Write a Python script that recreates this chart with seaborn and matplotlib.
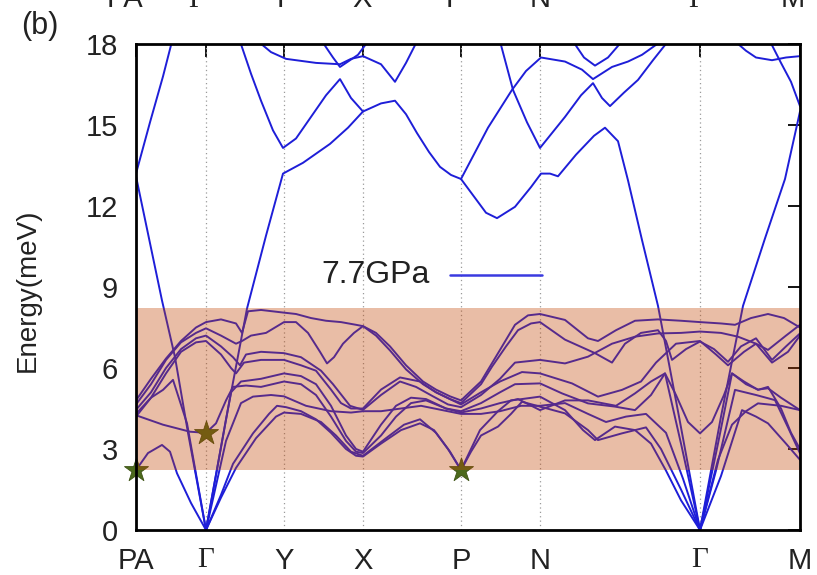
import numpy as np
import pandas as pd
import matplotlib
matplotlib.use("Agg")
import matplotlib.pyplot as plt
import seaborn as sns

# ---------------- data ----------------
kpath_pos = [0, 70, 148, 227, 325, 404, 564, 664]
kpath_labels = ["PA", "Γ", "Y", "X", "P", "N", "Γ", "M"]
energy_ticks = [0, 3, 6, 9, 12, 15, 18]
legend_label = "7.7GPa"
window_low, window_high = 2.22, 8.22
star_k = [0, 70, 325]
star_E = [2.22, 3.6, 2.22]

# high-energy branches (k, E)
band_pa_up = [(0, 13.2), (14, 15.1), (27, 16.8), (36, 18.1)]
band_pa_down = [(0, 13.1), (13, 10.8), (26, 8.5), (39, 6.4), (52, 3.6), (70, 0)]
band_long = [(70, 0), (90, 4.1), (111, 8.2), (130, 10.9), (147, 13.2), (167, 13.6), (194, 14.3),
             (212, 14.9), (227, 15.5), (245, 15.8), (259, 15.9), (270, 15.4), (281, 14.7),
             (293, 14.0), (304, 13.45), (315, 13.15), (325, 13.0), (339, 12.3), (350, 11.75),
             (361, 11.55), (379, 11.97), (395, 12.7), (405, 13.2), (414, 13.2), (422, 13.1),
             (440, 13.9), (458, 14.6), (469, 14.9), (482, 14.4), (492, 12.95), (506, 10.74),
             (522, 8.3), (543, 4.2), (564, 0)]
band_y_min = [(104, 18.1), (115, 16.9), (125, 15.9), (137, 14.8), (147, 14.15), (160, 14.5),
              (175, 15.3), (190, 16.1), (204, 16.7), (215, 16.0), (227, 15.5)]
band_upper1 = [(122, 18.1), (135, 17.7), (150, 17.45), (180, 17.3), (204, 17.25), (215, 17.45),
               (227, 17.55), (245, 17.25), (259, 16.6), (270, 17.3), (281, 18.1)]
band_upper2 = [(186, 18.1), (197, 17.5), (204, 17.15), (212, 17.35), (222, 17.6), (232, 18.1)]
band_p_up = [(325, 13.0), (352, 14.9), (376, 16.3), (390, 17.0), (405, 17.5), (429, 17.35),
             (446, 17.05), (457, 16.7), (476, 17.15), (492, 17.35), (506, 17.6), (525, 18.1)]
band_n_min = [(364, 18.1), (377, 16.3), (391, 15.1), (404, 14.15), (429, 15.3), (445, 16.1),
              (457, 16.55), (466, 16.0), (474, 15.7), (488, 16.2), (502, 16.67), (517, 17.4),
              (532, 18.1)]
band_para = [(437, 18.1), (448, 17.5), (459, 17.2), (472, 17.5), (486, 18.1)]
band_m1 = [(599, 18.1), (610, 17.75), (620, 17.5), (636, 17.4), (650, 17.5), (664, 17.55)]
band_m2 = [(634, 18.1), (645, 17.3), (655, 16.6), (664, 15.7)]
band_m_acoustic = [(564, 0), (585, 4.2), (607, 8.3), (629, 10.8), (649, 13.0), (664, 15.5)]

# low-energy branches (k, E)
band_ta1 = [(0, 2.22), (12, 2.85), (26, 3.15), (34, 2.9), (41, 2.1), (55, 1.0), (70, 0),
            (85, 1.3), (97, 2.45), (117, 3.58), (133, 4.3), (141, 4.6), (150, 4.55), (165, 4.4),
            (180, 4.1), (195, 3.6), (210, 3.0), (220, 2.75), (227, 2.72), (245, 3.2), (265, 3.7),
            (284, 3.95), (298, 3.7), (312, 3.0), (325, 2.22), (335, 3.0), (344, 3.7), (362, 4.4),
            (375, 4.8), (386, 4.85), (404, 4.94), (429, 4.44), (447, 3.7), (459, 3.33), (479, 3.83),
            (499, 3.7), (515, 3.2), (530, 2.2), (545, 1.1), (564, 0), (580, 2.2), (599, 5.19),
            (620, 5.0), (639, 4.81), (652, 3.8), (664, 2.84)]
band_ta2 = [(0, 4.2), (15, 4.9), (27, 5.19), (37, 5.56), (51, 3.95), (70, 0), (85, 1.2),
            (100, 2.3), (120, 3.4), (140, 4.2), (148, 4.35), (165, 4.3), (185, 4.0), (200, 3.5),
            (215, 2.9), (227, 2.75), (250, 3.4), (268, 3.9), (284, 4.1), (300, 3.6), (314, 2.9),
            (325, 2.22), (335, 2.9), (345, 3.5), (362, 3.83), (375, 4.3), (386, 4.75), (404, 4.57),
            (429, 4.32), (452, 3.7), (462, 3.33), (486, 3.58), (499, 3.7), (510, 3.8), (525, 3.0),
            (545, 1.5), (564, 0), (585, 2.0), (606, 4.44), (620, 4.2), (632, 3.95), (650, 3.2),
            (664, 2.6)]
band_la = [(70, 0), (95, 5.1), (105, 5.5), (125, 5.6), (148, 5.8), (165, 5.7), (180, 5.4),
           (195, 4.6), (210, 3.5), (220, 3.0), (227, 2.9), (245, 3.9), (260, 4.6), (275, 4.9),
           (290, 4.85), (310, 4.5), (325, 4.35), (345, 4.5), (364, 4.7), (382, 4.85), (404, 4.44),
           (429, 4.8), (452, 4.8), (480, 4.6), (499, 5.06), (515, 5.5), (529, 5.8), (545, 3.2),
           (564, 0), (582, 3.2), (596, 5.8), (610, 5.4), (622, 5.2), (632, 5.25), (645, 4.9),
           (664, 4.44)]
band_star = [(0, 4.25), (27, 3.9), (54, 3.64), (70, 3.6), (80, 3.95), (90, 4.8), (97, 5.3),
             (110, 5.35), (125, 5.3), (148, 5.5), (165, 5.4), (180, 5.0), (195, 4.2), (210, 3.3),
             (220, 2.9), (227, 2.85), (245, 3.5), (260, 4.2), (275, 4.7), (290, 4.8), (310, 4.5),
             (325, 4.4), (345, 4.7), (364, 5.1), (379, 5.4), (404, 5.43), (426, 5.06), (452, 4.69),
             (479, 4.57), (499, 4.44), (515, 5.0), (529, 5.8), (540, 5.0), (552, 4.0), (564, 3.58),
             (576, 4.0), (588, 5.0), (596, 5.8), (608, 5.5), (622, 5.19), (632, 5.3), (645, 4.5),
             (655, 3.6), (664, 3.0)]
band_mid = [(70, 0), (90, 3.3), (105, 4.7), (117, 4.94), (135, 5.0), (148, 4.95), (170, 4.6),
            (195, 4.4), (215, 4.35), (227, 4.4), (245, 4.4), (265, 4.5), (285, 4.6), (305, 4.45),
            (325, 4.3), (345, 4.3), (364, 4.4), (385, 4.6), (404, 4.6), (429, 4.7), (452, 4.3),
            (470, 4.0), (490, 4.2), (510, 4.3), (530, 3.6), (547, 1.9), (564, 0), (582, 2.6),
            (596, 3.9), (610, 4.4), (622, 4.69), (645, 4.6), (664, 4.44)]
band_opt_a = [(0, 4.8), (15, 5.6), (30, 6.35), (45, 7.0), (60, 7.5), (70, 7.7), (85, 7.8),
              (100, 7.65), (106, 7.3), (112, 8.1), (125, 8.15), (148, 8.05), (160, 8.0), (175, 7.85),
              (190, 7.75), (205, 7.7), (220, 7.6), (227, 7.55), (240, 7.3), (254, 6.8), (270, 6.1),
              (287, 5.5), (300, 5.2), (314, 4.95), (325, 4.8), (345, 5.5), (364, 6.67), (379, 7.6),
              (392, 7.95), (404, 8.0), (429, 7.78), (452, 7.1), (462, 7.0), (480, 7.4), (499, 7.75),
              (522, 7.8), (545, 7.75), (564, 7.7), (585, 7.65), (599, 7.6), (615, 7.85), (632, 8.0),
              (648, 7.85), (664, 7.5)]
band_opt_b = [(0, 4.65), (15, 5.4), (30, 6.3), (45, 6.95), (60, 7.3), (70, 7.47), (85, 7.2),
              (100, 6.9), (106, 7.0), (115, 7.2), (130, 7.3), (148, 7.7), (160, 7.7), (172, 7.3),
              (184, 6.6), (191, 6.17), (198, 6.4), (207, 6.9), (218, 7.3), (227, 7.55), (240, 7.2),
              (254, 6.65), (270, 5.95), (287, 5.4), (300, 5.1), (314, 4.85), (325, 4.7), (345, 5.4),
              (356, 6.05), (370, 6.8), (382, 7.4), (395, 7.65), (404, 7.7), (429, 7.05), (459, 6.55),
              (476, 6.2), (489, 6.9), (505, 7.3), (522, 7.4), (530, 7.0), (536, 6.3), (550, 6.7),
              (564, 6.98), (578, 6.7), (592, 6.23), (605, 6.8), (620, 7.1), (636, 6.3), (650, 6.8),
              (664, 7.28)]
band_opt_c = [(0, 4.45), (15, 5.1), (30, 6.0), (45, 6.7), (60, 7.1), (70, 7.2), (85, 6.8),
              (97, 6.4), (104, 6.1), (110, 6.5), (125, 6.6), (148, 6.55), (165, 6.4), (185, 5.9),
              (197, 5.4), (214, 4.6), (227, 4.45), (245, 5.0), (264, 5.5), (280, 5.3), (297, 4.95),
              (312, 4.65), (325, 4.55), (345, 5.0), (364, 5.6), (379, 6.2), (404, 6.3), (429, 6.17),
              (452, 6.42), (476, 6.9), (499, 7.16), (522, 7.28), (545, 7.3), (564, 7.35), (585, 7.3),
              (602, 7.16), (620, 6.9), (632, 6.67), (650, 7.2), (664, 7.6)]
band_opt_d = [(0, 4.3), (15, 4.9), (30, 5.8), (45, 6.6), (60, 6.95), (70, 7.0), (85, 6.5),
              (95, 6.0), (100, 5.8), (108, 6.2), (125, 6.3), (148, 6.3), (165, 6.1), (180, 5.9),
              (195, 5.2), (205, 4.7), (215, 4.5), (227, 4.5), (245, 5.2), (264, 5.65), (284, 5.5),
              (300, 5.1), (325, 4.65), (345, 5.1), (364, 5.5), (386, 5.85), (404, 5.8), (436, 5.43),
              (462, 4.94), (486, 5.19), (505, 5.5), (520, 6.2), (540, 6.9), (564, 7.0), (580, 6.5),
              (592, 6.1), (608, 6.6), (620, 6.9), (636, 6.2), (652, 6.6), (664, 7.2)]

bands = {
    "pa_up": band_pa_up, "pa_down": band_pa_down, "long": band_long, "y_min": band_y_min,
    "upper1": band_upper1, "upper2": band_upper2, "p_up": band_p_up, "n_min": band_n_min,
    "para": band_para, "m1": band_m1, "m2": band_m2, "m_ac": band_m_acoustic,
    "ta1": band_ta1, "ta2": band_ta2, "la": band_la, "star": band_star, "mid": band_mid,
    "opt_a": band_opt_a, "opt_b": band_opt_b, "opt_c": band_opt_c, "opt_d": band_opt_d,
}
rows = [(name, k, e) for name, pts in bands.items() for k, e in pts]
df = pd.DataFrame(rows, columns=["band", "k", "E"])
stars = pd.DataFrame({"k": star_k, "E": star_E})

# ---------------- plot ----------------
sns.set_theme(style="white")
plt.rcParams["font.family"] = ["Liberation Sans", "DejaVu Sans"]

W, H = 817, 575
fig = plt.figure(figsize=(W / 100, H / 100), dpi=100)
ax = fig.add_axes([136 / W, (H - 530) / H, 664 / W, 486 / H])

line_color = "#1e1ed8"
sns.lineplot(data=df, x="k", y="E", units="band", estimator=None, sort=False,
             color=line_color, linewidth=1.4, ax=ax, legend=False, zorder=3)
sns.scatterplot(data=stars, x="k", y="E", marker="*", s=330, color="#4c6a1c",
                edgecolor="#3d5214", linewidth=0.6, ax=ax, zorder=3.5, clip_on=False, legend=False)

ax.axhspan(window_low, window_high, color="#c04200", alpha=0.35, lw=0, zorder=4)

for pos in kpath_pos[1:-1]:
    ax.axvline(pos, color="#9a9a9a", lw=0.9, ls=(0, (1, 2.5)), zorder=1)

ax.set_xlim(kpath_pos[0], kpath_pos[-1])
ax.set_ylim(energy_ticks[0], energy_ticks[-1])
ax.set_xticks(kpath_pos)
ax.set_xticklabels(kpath_labels)
ax.set_yticks(energy_ticks)
ax.set_xlabel("")
ax.set_ylabel("")
for lab in ax.get_xticklabels():
    if lab.get_text() == "Γ":
        lab.set_fontfamily(["Liberation Serif", "DejaVu Serif"])
ax.tick_params(axis="both", direction="in", length=9, width=1.3, color="black",
               top=True, right=True, labelsize=21, colors="black")
ax.tick_params(axis="y", pad=13)
ax.tick_params(axis="x", pad=12)
for lab in ax.get_xticklabels() + ax.get_yticklabels():
    lab.set_color("#222222")
for sp in ax.spines.values():
    sp.set_color("black")
    sp.set_linewidth(2.0)
    sp.set_zorder(6)

# legend-like key
ax.text((430 - 136) / 664, (530 - 275) / 486, legend_label, transform=ax.transAxes,
        ha="right", va="center", fontsize=23, color="#222222", zorder=7)
ax.plot([(450 - 136) / 664, (542 - 136) / 664], [(530 - 275) / 486] * 2,
        transform=ax.transAxes, color="#3a3ae0", lw=1.8, zorder=7)

fig.text(28 / W, 1 - 290 / H, "Energy(meV)", rotation=90, ha="center", va="center",
         fontsize=20, color="#222222")
fig.text(40 / W, 1 - 26 / H, "(b)", ha="center", va="center", fontsize=22, color="#222222")

# clipped labels of the panel above (cut by the top edge, as in the source figure)
top_px = [125, 197, 280, 362, 455, 540, 697, 793]
for px, lab in zip(top_px, kpath_labels):
    fam = ["Liberation Serif", "DejaVu Serif"] if lab == "Γ" else ["Liberation Sans", "DejaVu Sans"]
    fig.text(px / W, 1 - 7 / H, lab, ha="center", va="baseline", fontsize=21,
             color="#222222", family=fam)

fig.savefig("out.png", dpi=100)
